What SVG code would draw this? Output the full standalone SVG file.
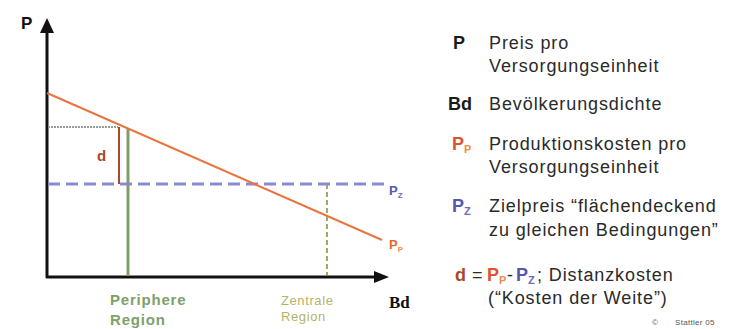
<svg xmlns="http://www.w3.org/2000/svg" width="741" height="329" viewBox="0 0 741 329">
<defs>
<style>
.leg{font-family:"Liberation Sans",Arial,sans-serif;font-size:18px;letter-spacing:0.9px;fill:#2a2a2a}
.key{font-family:"Liberation Sans",Arial,sans-serif;font-size:18px;font-weight:bold;fill:#1a1a1a}
.pp{fill:#e2502c}
.pps{fill:#ef8a4a;font-size:11px}
.pz{fill:#5656b4}
.pzs{fill:#6b6bc0;font-size:11px}
.ax{stroke:#111;stroke-width:3;fill:none}
.lbl{font-family:"Liberation Sans",Arial,sans-serif;font-weight:bold}
</style>
</defs>
<rect width="741" height="329" fill="#ffffff"/>
<g id="connectors">
<line class="ax" x1="47" y1="278" x2="47" y2="30"/>
<polygon points="47,18 40,33 54,33" fill="#111"/>
<line class="ax" x1="46" y1="277" x2="376" y2="277"/>
<polygon points="389,277 374,271 374,283" fill="#111"/>
<line x1="48" y1="127" x2="118" y2="127" stroke="#9a9a9a" stroke-width="2" stroke-dasharray="2 1"/>
<line x1="119" y1="127" x2="119" y2="184" stroke="#a8482a" stroke-width="2"/>
<line x1="128" y1="128" x2="128" y2="276" stroke="#7e9e6c" stroke-width="3"/>
<line x1="327" y1="184" x2="327" y2="276" stroke="#8a8a3c" stroke-width="1.5" stroke-dasharray="5 3"/>
<line x1="48" y1="184" x2="384" y2="184" stroke="#8a8ad2" stroke-width="3" stroke-dasharray="12 6"/>
<line x1="47" y1="93" x2="382" y2="240" stroke="#e8743f" stroke-width="2"/>
</g>
<g id="axis-labels">
<text x="21" y="29" class="lbl" font-size="17" fill="#111">P</text>
<text x="389" y="308" font-family="'Liberation Serif','Times New Roman',serif" font-weight="bold" font-size="17" fill="#111">Bd</text>
<text x="97" y="161" class="lbl" font-size="15" fill="#a8482a">d</text>
<text x="389" y="195" class="lbl" font-size="13" fill="#5656b4">P<tspan font-size="8" dy="3" fill="#6b6bc0">Z</tspan></text>
<text x="389" y="249" class="lbl" font-size="13" fill="#e06a30">P<tspan font-size="8" dy="3" fill="#ef8a4a">P</tspan></text>
</g>
<g id="region-labels">
<text x="110" y="305" class="lbl" font-size="15" letter-spacing="0.8" fill="#7ea06a">Periphere</text>
<text x="110" y="325" class="lbl" font-size="15" letter-spacing="0.8" fill="#7ea06a">Region</text>
<text x="281" y="305" font-family="'Liberation Sans',Arial,sans-serif" font-size="13" letter-spacing="0.6" fill="#b4b466">Zentrale</text>
<text x="281" y="321" font-family="'Liberation Sans',Arial,sans-serif" font-size="13" letter-spacing="0.6" fill="#b4b466">Region</text>
</g>
<g id="legend-P">
<text x="453" y="49" class="key">P</text>
<text x="489" y="49" class="leg">Preis pro</text>
<text x="489" y="72" class="leg">Versorgungseinheit</text>
</g>
<g id="legend-Bd">
<text x="448" y="110" class="key">Bd</text>
<text x="489" y="110" class="leg">Bevölkerungsdichte</text>
</g>
<g id="legend-PP">
<text x="452" y="150" class="key pp">P<tspan class="pps" dy="3">P</tspan></text>
<text x="489" y="150" class="leg">Produktionskosten pro</text>
<text x="489" y="173" class="leg">Versorgungseinheit</text>
</g>
<g id="legend-PZ">
<text x="452" y="212" class="key pz">P<tspan class="pzs" dy="3">Z</tspan></text>
<text x="489" y="212" class="leg">Zielpreis “flächendeckend</text>
<text x="489" y="236" class="leg">zu gleichen Bedingungen”</text>
</g>
<g id="legend-d">
<text x="455" y="281" class="key" style="fill:#a8482a">d</text>
<text x="472" y="281" class="leg">=</text>
<text x="487" y="281" class="key pp">P<tspan class="pps" dy="3">P</tspan></text>
<text x="507" y="281" class="leg">-</text>
<text x="516" y="281" class="key pz">P<tspan class="pzs" dy="3">Z</tspan></text>
<text x="537" y="281" class="leg" font-size="19" letter-spacing="1.3">; Distanzkosten</text>
<text x="488" y="304" class="leg">(“Kosten der Weite”)</text>
</g>
<g id="copyright">
<text x="652" y="325" font-family="'Liberation Sans',Arial,sans-serif" font-size="8" fill="#555">©</text>
<text x="675" y="325" font-family="'Liberation Sans',Arial,sans-serif" font-size="8" fill="#555" letter-spacing="0.3">Stattler 05</text>
</g>
</svg>
